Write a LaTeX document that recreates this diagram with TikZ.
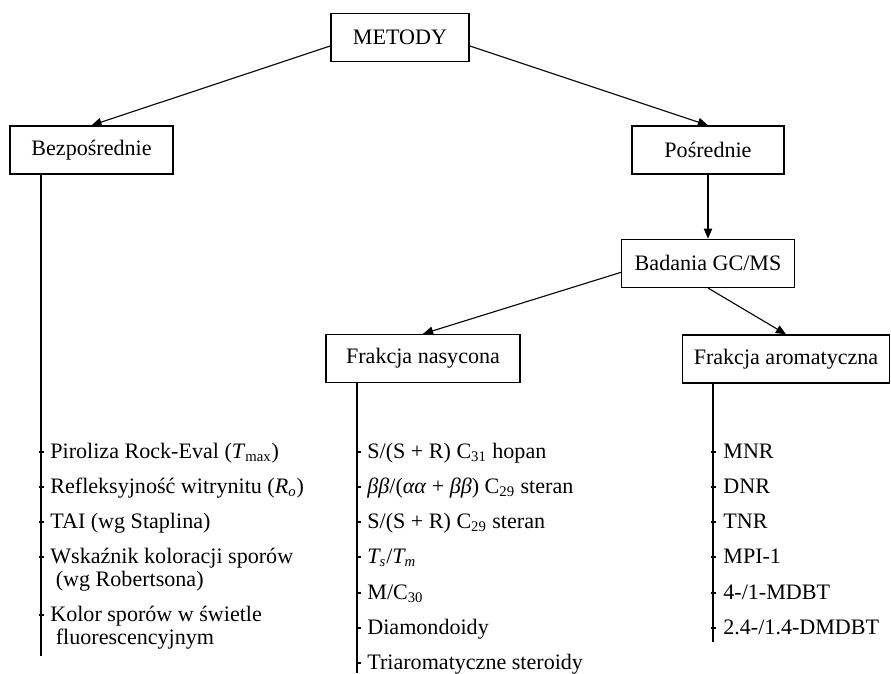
\documentclass[tikz,border=0pt]{standalone}
\usepackage{fontspec}
\setmainfont{Liberation Serif}
\usetikzlibrary{arrows.meta, positioning}
\tikzset{
    box/.style = {rectangle, draw=black, line width=0.7pt, minimum height=26.1pt, text centered, inner sep=2pt},
    arrow/.style = {line width=0.6pt, -{Triangle[length=5.5pt, width=4.6pt]}},
    stem/.style = {line width=0.6pt},
    item/.style = {anchor=base west, inner sep=0pt, align=left},
    tick/.style = {line width=0.6pt}
}
\begin{document}
\begin{tikzpicture}[x=0.5435pt, y=-0.5435pt, font=\fontsize{12}{12.7}\selectfont]
\useasboundingbox (0,0) rectangle (891,673);

% Top level
\node (metody) [box, minimum width=75pt] at (400,37.5) {METODY};
\node (bezp) [box, minimum width=88.6pt] at (91.5,150) {Bezpośrednie};
\node (posr) [box, minimum width=82.6pt] at (708,150) {Pośrednie};

% GC/MS branch
\node (gcms) [box, minimum width=94pt, below=34.8pt of posr] {Badania GC/MS};
\node (nasyc) [box, minimum width=105.4pt] at (423,358.5) {Frakcja nasycona};
\node (arom) [box, minimum width=112.5pt] at (786,359) {Frakcja aromatyczna};

% Ends of the list stems
\coordinate (bezpEnd) at (41,656);
\coordinate (nasycEnd) at (357,673);
\coordinate (aromEnd) at (713,642);

% Bezpośrednie list (two-line items sit on their last line)
\node (b1) [item] at (50,458) {Piroliza Rock-Eval (\textit{T}\textsubscript{max})};
\node (b2) [item] at (50,493) {Refleksyjność witrynitu (\textit{R\textsubscript{o}})};
\node (b3) [item] at (50,528) {TAI (wg Staplina)};
\node (b4) [item] at (50,586.4) {Wskaźnik koloracji sporów\\~(wg Robertsona)};
\node (b5) [item] at (50,644.4) {Kolor sporów w świetle\\~fluorescencyjnym};

% Frakcja nasycona list
\node (n1) [item] at (367,458) {S/(S + R) C\textsubscript{31} hopan};
\node (n2) [item] at (367,493) {\textit{ββ}/(\textit{αα} + \textit{ββ}) C\textsubscript{29} steran};
\node (n3) [item] at (367,528) {S/(S + R) C\textsubscript{29} steran};
\node (n4) [item] at (367,563) {\textit{T\textsubscript{s}}/\textit{T\textsubscript{m}}};
\node (n5) [item] at (367,599) {M/C\textsubscript{30}};
\node (n6) [item] at (367,634) {Diamondoidy};
\node (n7) [item] at (367,669) {Triaromatyczne steroidy};

% Frakcja aromatyczna list
\node (a1) [item] at (723,458) {MNR};
\node (a2) [item] at (723,493) {DNR};
\node (a3) [item] at (723,528) {TNR};
\node (a4) [item] at (723,563) {MPI-1};
\node (a5) [item] at (723,599) {4-/1-MDBT};
\node (a6) [item] at (723,634) {2.4-/1.4-DMDBT};

% Arrows
\draw [arrow] ([yshift=-4.6pt]metody.west) -- (bezp.north);
\draw [arrow] ([yshift=-4.6pt]metody.east) -- (posr.north);
\draw [arrow] (posr) -- (gcms);
\draw [arrow] ([yshift=-4.9pt]gcms.west) -- (nasyc.north);
\draw [arrow] (gcms.south) -- (arom.north);

% Stems
\draw [stem] (bezp.south -| bezpEnd) -- (bezpEnd);
\draw [stem] (nasyc.south -| nasycEnd) -- (nasycEnd);
\draw [stem] (arom.south -| aromEnd) -- (aromEnd);

% Ticks
\foreach \n in {b1,b2,b3,n1,n2,n3,n4,n5,n6,n7} {
    \draw [tick] (\n.base west) ++(-11,-6) -- ++(5,0);
}
\foreach \n in {b4,b5} {
    \draw [tick] (\n.base west) ++(-11,-29.4) -- ++(5,0);
}
\foreach \n in {a1,a2,a3,a4,a5,a6} {
    \draw [tick] (\n.base west) ++(-12,-6) -- ++(5,0);
}

\end{tikzpicture}
\end{document}
